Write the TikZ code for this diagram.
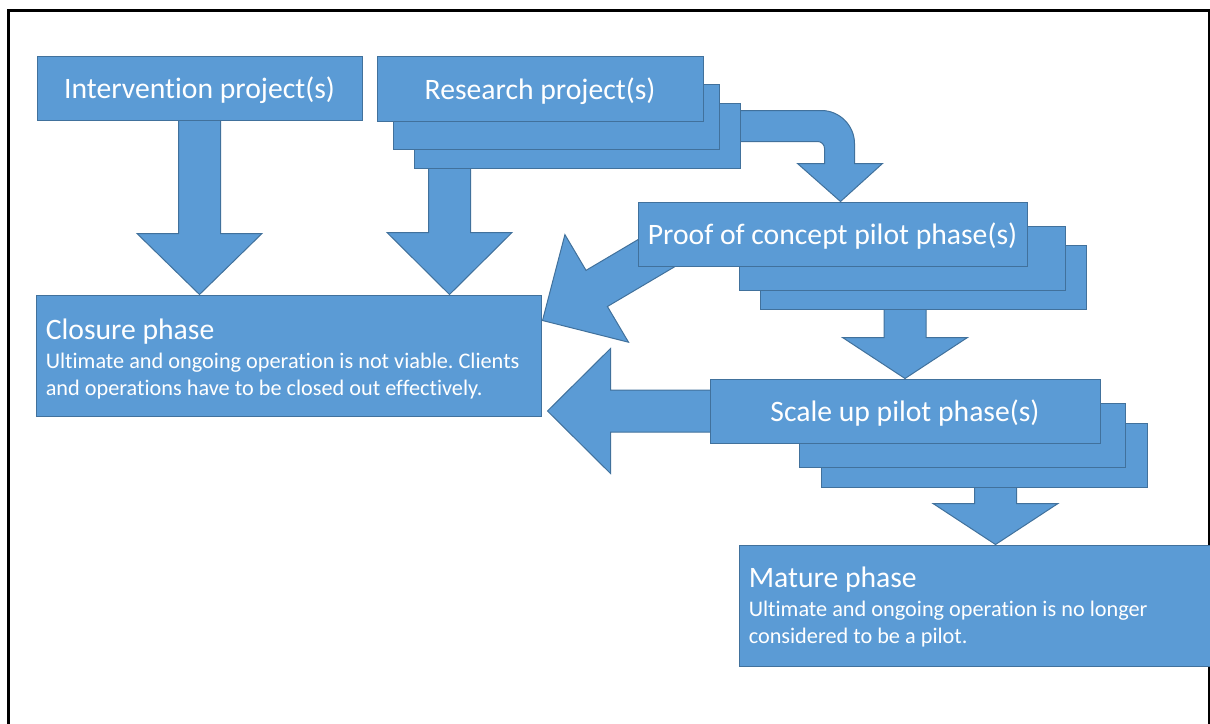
\documentclass[tikz,border=0pt]{standalone}
\usepackage{fontspec}
\setmainfont{Carlito}[Ligatures=NoCommon]
\usetikzlibrary{calc}
\usetikzlibrary{backgrounds}

\definecolor{boxblue}{HTML}{5B9BD5}
\definecolor{edgeblue}{HTML}{41719C}

\tikzset{
  phase/.style={draw=edgeblue, fill=boxblue, line width=0.75pt, text=white, inner sep=0pt},
  headfont/.style={font=\fontsize{22.25}{26}\selectfont, yshift=-1.5pt},
  bodytext/.style={text=white, align=left, inner sep=0pt, anchor=west,
    font=\frenchspacing\fontsize{16.7}{20.5}\selectfont},
  block/.style={draw=edgeblue, fill=boxblue, line width=0.75pt, line join=miter},
}

\begin{document}
\begin{tikzpicture}[x=0.75pt, y=-0.75pt]
\useasboundingbox (0,0) rectangle (1210,724);

% page frame (open at the bottom)
\draw[line width=2.25pt] (8,724) -- (8,11) -- (1209,11) -- (1209,724);

% back copies of the stacked boxes
\foreach \nm/\cx/\cy in {res3/577/136, res2/556/117, poc3/923.5/277, poc2/902.5/258.5, sca3/984/455, sca2/962.5/435}
  \node[phase, minimum width=244.5pt, minimum height=48pt] (\nm) at (\cx,\cy) {};

% front boxes
\node[phase, minimum width=243.75pt, minimum height=47.25pt] (interv) at (199.5,88.5) {};
\node[phase, minimum width=244.5pt, minimum height=48pt] (research) at (540,89) {};
\node[phase, minimum width=291.75pt, minimum height=48pt] (proof) at (832.5,234) {};
\node[phase, minimum width=292.5pt, minimum height=48pt] (scale) at (905,411) {};
\node[phase, minimum width=378.75pt, minimum height=90.75pt] (closure) at (288.5,355.5) {};
\node[phase, minimum width=354.75pt, minimum height=90.75pt] (mature) at (975.5,605.5) {};

% box labels
\node[headfont, text=white] (intervtxt) at (interv) {Intervention project(s)};
\node[headfont, text=white] (researchtxt) at (research) {Research project(s)};
\node[headfont, text=white] (prooftxt) at (proof) {Proof of concept pilot phase(s)};
\node[headfont, text=white] (scaletxt) at (scale) {Scale up pilot phase(s)};
\node[bodytext] (closuretxt) at ([xshift=7.5pt,yshift=-2.5pt]closure.west)
  {{\fontsize{22.25}{26}\selectfont Closure phase}\\[1.5pt]
   Ultimate and ongoing operation is not viable. Clients\\
   and operations have to be closed out effectively.};
\node[bodytext] (maturetxt) at ([xshift=7.5pt,yshift=-1pt]mature.west)
  {{\fontsize{22.25}{26}\selectfont Mature phase}\\[1.5pt]
   Ultimate and ongoing operation is no longer\\
   considered to be a pilot.};

% arrow tips
\coordinate (t1) at (interv.south |- closure.north);
\coordinate (t2) at ($(closure.north east)+(-92,0)$);
\coordinate (t3) at (scale.north);
\coordinate (t4) at ($(mature.north west)+(257,0)$);
\coordinate (t5) at ($(closure.east |- scale.west)+(6,0)$);
\coordinate (t6) at ($(closure.north east)+(1,26)$);
\coordinate (t7) at ($(proof.north west)+(203,0)$);

% block arrows, behind the boxes
\begin{scope}[on background layer]
\foreach \tip/\ang/\len/\hl in {t1/-90/176/61, t2/-90/135/62, t3/-90/75/41, t4/-90/62/41, t5/180/175/63, t6/210.6/180/63} {
  \begin{scope}[shift={(\tip)}, rotate=\ang]
    \draw[block] (0,0) -- (-\hl,-62.5) -- (-\hl,-21) -- (-\len,-21)
      -- (-\len,21) -- (-\hl,21) -- (-\hl,62.5) -- cycle;
  \end{scope}
}
% bent arrow from research to proof of concept
\begin{scope}[shift={(t7)}]
  \draw[block] (0,0) -- (42,-38) -- (14,-38) -- (14,-58)
    .. controls (14,-76) and (-1,-91) .. (-19,-91) -- (-111,-91) -- (-111,-60)
    -- (-23,-60) .. controls (-19,-60) and (-16,-57) .. (-16,-53)
    -- (-16,-38) -- (-43,-38) -- cycle;
\end{scope}
\end{scope}

\end{tikzpicture}
\end{document}
